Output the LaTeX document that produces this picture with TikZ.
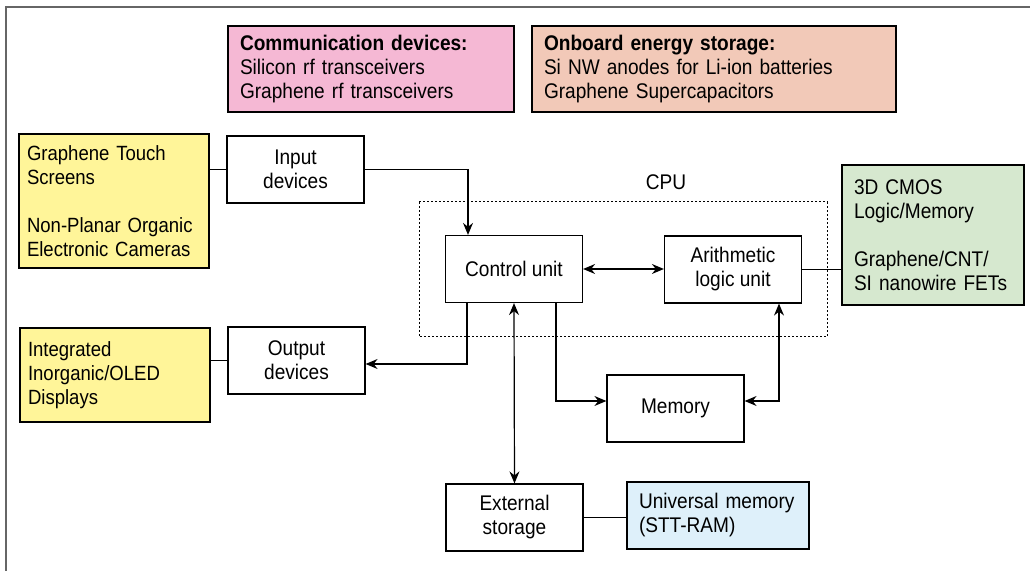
\documentclass[tikz,border=0pt]{standalone}
\usepackage{fontspec}
\setmainfont[FakeStretch=0.9]{Liberation Sans}
\usepackage{tikz}
\usetikzlibrary{shapes,arrows.meta,calc,positioning}
\definecolor{pinkbox}{rgb}{0.96, 0.72, 0.83}
\definecolor{peachbox}{rgb}{0.95, 0.79, 0.72}
\definecolor{yellowbox}{rgb}{1.0, 0.96, 0.60}
\definecolor{greenbox}{rgb}{0.84, 0.91, 0.81}
\definecolor{bluebox}{rgb}{0.87, 0.94, 0.98}
\definecolor{framegray}{rgb}{0.40, 0.40, 0.40}

\begin{document}
\begin{tikzpicture}[x=0.5pt,y=-0.5pt,line width=0.6pt,
        >={Stealth[length=6pt,width=5pt,inset=2pt]},
        font=\fontsize{10.6}{12}\selectfont,
        unit/.style={rectangle,draw,minimum width=68.5pt,minimum height=33.5pt,align=center,inner sep=0pt},
        info/.style={rectangle,draw,align=left,inner xsep=6pt,inner ysep=0pt}]
        \useasboundingbox (0,0) rectangle (1030,571);
        \draw[framegray,line width=0.9pt] (6,571) -- (6,7) -- (1030,7);
        %%%%%%%%%%%%%%%%%%%%%%%%%%%top boxes%%%%%%%%%%%%%%%%%%%%%%
          \node[info,fill=pinkbox,text width=131pt,minimum height=43pt] (comm) at (371,69)
          {\textbf{Communication devices:}\\Silicon rf transceivers\\Graphene rf transceivers};
          \node[info,fill=peachbox,text width=170pt,minimum height=43pt] (energy) at (714,69)
          {\textbf{Onboard energy storage:}\\Si NW anodes for Li-ion batteries\\Graphene Supercapacitors};
        %%%%%%%%%%%%%%%%%%%%%%%%%%%left side%%%%%%%%%%%%%%%%%%%%%%
          \node[info,fill=yellowbox,text width=87pt,inner xsep=4pt,minimum height=67pt,
          font=\fontsize{10.3}{12}\selectfont] (tscr) at (114,201)
          {Graphene Touch\\Screens\\[12pt]Non-Planar Organic\\Electronic Cameras};
          \node[info,fill=yellowbox,text width=87pt,inner xsep=4pt,minimum height=47pt,
          font=\fontsize{10.3}{12}\selectfont] (disp) at (115,375)
          {Integrated\\Inorganic/OLED\\Displays};
          \node (in) at (295.5,169.5) [unit] {Input\\devices};
          \node (out) at (296.5,360.5) [unit] {Output\\devices};
        %%%%%%%%%%%%%%%%%%%%%%%%%%%CPU%%%%%%%%%%%%%%%%%%%%%%
          \draw[dash pattern=on 1pt off 1pt,line width=0.5pt] (419,202) rectangle (827,337);
          \node (cpu) at (666,182) {CPU};
          \node (ctrl) at (514,269) [unit] {Control unit};
          \node (alu) at (733,269.5) [unit] {Arithmetic\\logic unit};
          \node[info,fill=greenbox,text width=79pt,minimum height=70pt] (logic) at (933,235)
          {3D CMOS\\Logic/Memory\\[12pt]Graphene/CNT/\\SI nanowire FETs};
        %%%%%%%%%%%%%%%%%%%%%%%%%%%bottom%%%%%%%%%%%%%%%%%%%%%%
          \node (mem) at (675.5,408.5) [unit] {Memory};
          \node (ext) at (514.5,517.5) [unit] {External\\storage};
          \node[info,fill=bluebox,text width=79pt,minimum height=33.5pt] (umem) at (718,515.5)
          {Universal memory\\(STT-RAM)};
        %%%%%%%%%%%%%%%%%%%%%%%%%%%connectors%%%%%%%%%%%%%%%%%%%%%%
          \draw (in.west) -- (in.west -| tscr.east);
          \draw (out.west) -- (out.west -| disp.east);
          \draw[->] (in.east) -| ([xshift=-23pt]ctrl.north);
          \draw[<->] (ctrl.east) -- (ctrl.east -| alu.west);
          \draw (alu.east) -- (alu.east -| logic.west);
          \draw[->] ([xshift=-23.5pt]ctrl.south) |- ([yshift=-1.75pt]out.east);
          \draw[<->] (ctrl.south) -- (ext.north);
          \draw[->] ([xshift=21pt]ctrl.south) |- ([yshift=3.75pt]mem.west);
          \draw[<->] ([yshift=3.75pt]mem.east) -| ([xshift=23pt]alu.south);
          \draw (ext.east) -- (ext.east -| umem.west);
        \end{tikzpicture}
\end{document}
